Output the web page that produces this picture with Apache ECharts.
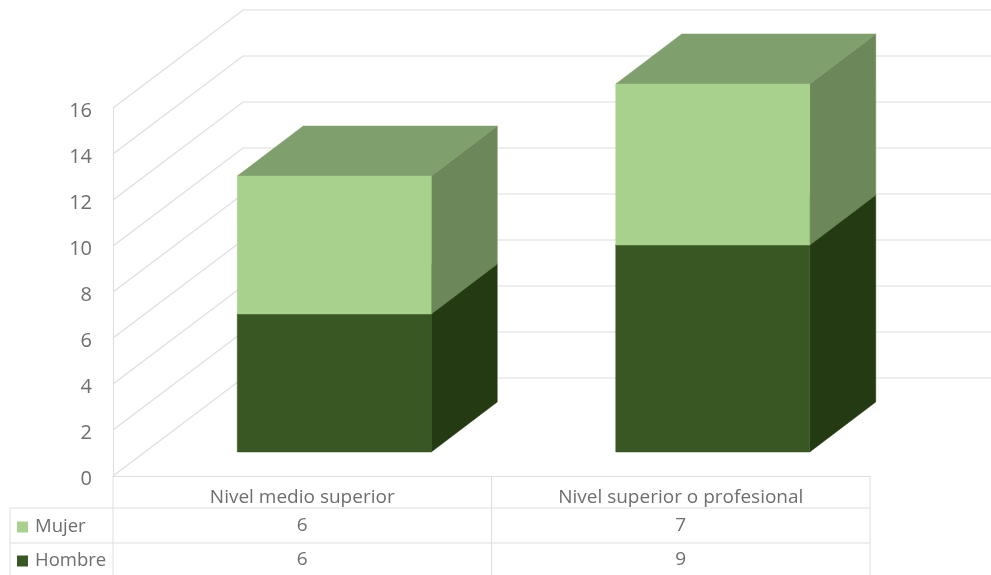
<!DOCTYPE html>
<html><head><meta charset="utf-8">
<script src="https://cdn.jsdelivr.net/npm/echarts@6/dist/echarts.min.js"></script>
<style>html,body{margin:0;padding:0;background:#fff}#c{width:991px;height:575px}</style>
</head><body><div id="c"></div>
<script>
const categories = ['Nivel medio superior', 'Nivel superior o profesional'];
const hombre = [6, 9];
const mujer = [6, 7];
const yTicks = [0, 2, 4, 6, 8, 10, 12, 14, 16];

const FONT = '"Open Sans"';
const TXT = '#6e6e6e';
const LINE = '#dedede';
const WALL = {dx: 130, dy: -98};
const FRONT = {dx: 32, dy: -24};
const DEPTH = {dx: 66, dy: -50};
const BAR_RATIO = 0.5125;

const chart = echarts.init(document.getElementById('c'), null, {renderer: 'canvas'});

function barSeries(name, values, bases, c, rowY) {
  return {
    name, type: 'custom', coordinateSystem: 'cartesian2d', clip: false, z: 3,
    itemStyle: {color: c.front},
    data: values.map((v, i) => [i, bases[i] + v, bases[i], v]),
    encode: {x: 0, y: 1},
    renderItem(params, api) {
      const i = api.value(0);
      const t = api.coord([i, api.value(1)]);
      const b = api.coord([i, api.value(2)]);
      const w = api.size([1, 0])[0] * BAR_RATIO;
      const x0 = t[0] - w / 2 + FRONT.dx, x1 = x0 + w;
      const yt = t[1] + FRONT.dy, yb = b[1] + FRONT.dy;
      const poly = (points, fill) => ({type: 'polygon', shape: {points}, style: {fill, stroke: fill, lineWidth: 0.5}});
      return {type: 'group', children: [
        poly([[x1, yb], [x1 + DEPTH.dx, yb + DEPTH.dy], [x1 + DEPTH.dx, yt + DEPTH.dy], [x1, yt]], c.side),
        poly([[x0, yt], [x1, yt], [x1 + DEPTH.dx, yt + DEPTH.dy], [x0 + DEPTH.dx, yt + DEPTH.dy]], c.top),
        poly([[x0, yb], [x1, yb], [x1, yt], [x0, yt]], c.front),
        {type: 'text', style: {x: t[0], y: rowY, text: String(api.value(3)), fill: TXT,
          font: '19px ' + FONT, align: 'center', verticalAlign: 'middle'}}
      ]};
    }
  };
}

const zeros = categories.map(() => 0);

chart.setOption({
  animation: false,
  backgroundColor: '#fff',
  textStyle: {fontFamily: FONT},
  grid: {left: 113, right: 121, top: 108, bottom: 99, containLabel: false},
  legend: {
    orient: 'vertical', left: 17, top: 517, itemWidth: 11, itemHeight: 11, itemGap: 14, icon: 'rect',
    selectedMode: false, data: ['Mujer', 'Hombre'],
    padding: 0,
    textStyle: {fontFamily: FONT, fontSize: 18.5, color: TXT, lineHeight: 20, padding: [0, 0, 0, 2]}
  },
  xAxis: {
    type: 'category', data: categories,
    axisLine: {lineStyle: {color: LINE, width: 1}},
    axisTick: {show: false},
    axisLabel: {color: TXT, fontFamily: FONT, fontSize: 19, margin: 12, interval: 0}
  },
  yAxis: {
    type: 'value', min: 0, max: 16, interval: 2,
    axisLine: {show: true, lineStyle: {color: LINE, width: 1}},
    axisTick: {show: false},
    splitLine: {show: false},
    axisLabel: {color: TXT, fontFamily: FONT, fontSize: 20, margin: 21, verticalAlign: 'top', lineHeight: 6, formatter: v => String(v)}
  },
  series: [
    {
      name: 'pared', type: 'custom', coordinateSystem: 'cartesian2d', clip: false, z: 1, silent: true,
      data: yTicks.map(v => [0, v]), encode: {x: 0, y: 1},
      renderItem(params, api) {
        const p = api.coord([0, api.value(1)]);
        const x = params.coordSys.x, y = p[1];
        return {type: 'polyline', shape: {points: [[x, y], [x + WALL.dx, y + WALL.dy], [991, y + WALL.dy]]},
          style: {stroke: LINE, lineWidth: 1.2, fill: null}};
      }
    },
    barSeries('Hombre', hombre, zeros, {front: '#385723', side: '#233a12', top: '#2d4a1b'}, 560),
    barSeries('Mujer', mujer, hombre, {front: '#a9d18e', side: '#6c8759', top: '#7f9f6c'}, 526)
  ],
  graphic: [
    [[10, 508], [870, 508]], [[10, 543], [870, 543]],
    [[10, 508], [10, 575]], [[113, 476], [113, 575]],
    [[491.5, 476], [491.5, 575]], [[870, 476], [870, 575]]
  ].map(([a, b]) => ({type: 'line', z: 0, silent: true,
    shape: {x1: a[0], y1: a[1], x2: b[0], y2: b[1]}, style: {stroke: LINE, lineWidth: 1}}))
});
</script></body></html>
